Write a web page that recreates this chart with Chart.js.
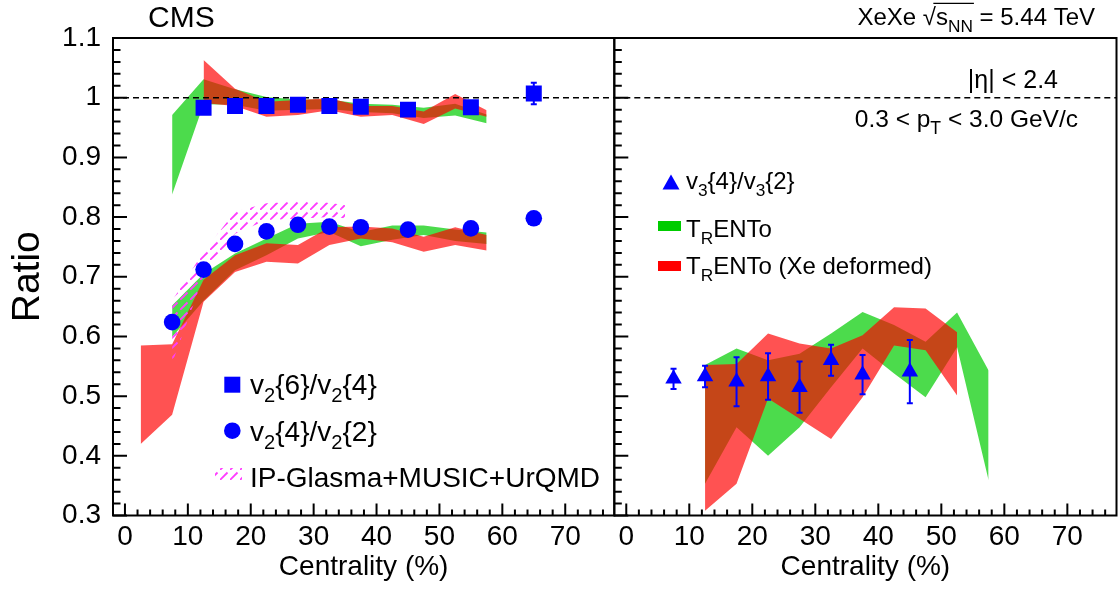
<!DOCTYPE html>
<html>
<head>
<meta charset="utf-8">
<title>XeXe flow harmonic ratios</title>
<script src="https://cdn.jsdelivr.net/npm/chart.js"></script>
<style>
  body { margin: 0; background: #fff; }
  .wrap { position: relative; width: 1119px; height: 592px; }
  .wrap canvas { position: absolute; top: 0; }
  #left { left: 0; }
  #right { left: 612px; }
</style>
</head>
<body>
<div class="wrap">
  <canvas id="left" width="620" height="592"></canvas>
  <canvas id="right" width="507" height="592"></canvas>
</div>
<script>
const FONT = '"Liberation Sans", Arial, Helvetica, sans-serif';
const X_MIN = -1.9, X_MAX = 77.8, Y_MIN = 0.3, Y_MAX = 1.1;
const xTicks = [0, 10, 20, 30, 40, 50, 60, 70];
const yTicks = [0.3, 0.4, 0.5, 0.6, 0.7, 0.8, 0.9, 1.0, 1.1];

// left panel: v2 ratios
const cent64 = [12.5, 17.5, 22.5, 27.5, 32.5, 37.5, 45, 55, 65];
const v2r64 = [0.983, 0.986, 0.986, 0.988, 0.986, 0.985, 0.980, 0.984, 1.007];
const v2r64Err = [0.005, 0.004, 0.004, 0.004, 0.004, 0.004, 0.005, 0.006, 0.018];
const cent42 = [7.5, 12.5, 17.5, 22.5, 27.5, 32.5, 37.5, 45, 55, 65];
const v2r42 = [0.624, 0.712, 0.755, 0.776, 0.787, 0.784, 0.783, 0.779, 0.781, 0.798];
const v2r42Err = [0.004, 0.003, 0.003, 0.003, 0.003, 0.003, 0.003, 0.003, 0.004, 0.005];

// TRENTo bands, left panel
const trCentL = [7.5, 12.5, 17.5, 22.5, 27.5, 32.5, 37.5, 42.5, 47.5, 52.5, 57.5];
const tr64Lo = [0.838, 0.989, 0.988, 0.978, 0.980, 0.981, 0.976, 0.974, 0.966, 0.970, 0.957];
const tr64Hi = [0.971, 1.031, 1.014, 1.001, 0.997, 0.997, 0.990, 0.988, 0.983, 0.990, 0.972];
const tr42Lo = [0.599, 0.660, 0.711, 0.736, 0.764, 0.775, 0.751, 0.762, 0.770, 0.760, 0.755];
const tr42Hi = [0.652, 0.705, 0.739, 0.764, 0.789, 0.792, 0.775, 0.786, 0.786, 0.779, 0.774];

const trDefCent64 = [12.5, 17.5, 22.5, 27.5, 32.5, 37.5, 42.5, 47.5, 52.5, 57.5];
const trDef64Lo = [0.991, 0.986, 0.968, 0.971, 0.979, 0.968, 0.971, 0.956, 0.982, 0.968];
const trDef64Hi = [1.063, 1.015, 0.993, 0.996, 0.999, 0.986, 0.986, 0.977, 1.006, 0.979];
const trDefCent42 = [2.5, 7.5, 12.5, 17.5, 22.5, 27.5, 32.5, 37.5, 42.5, 47.5, 52.5, 57.5];
const trDef42Lo = [0.420, 0.469, 0.658, 0.708, 0.725, 0.722, 0.753, 0.764, 0.758, 0.742, 0.753, 0.744];
const trDef42Hi = [0.585, 0.587, 0.695, 0.736, 0.756, 0.753, 0.783, 0.784, 0.781, 0.767, 0.783, 0.770];

// IP-Glasma+MUSIC+UrQMD
const ipgCent = [7.5, 12.5, 17.5, 22.5, 27.5, 32.5, 35];
const ipgLo = [0.555, 0.700, 0.772, 0.795, 0.797, 0.800, 0.798];
const ipgHi = [0.660, 0.742, 0.809, 0.823, 0.826, 0.824, 0.820];

// right panel: v3{4}/v3{2}
const cent3 = [7.5, 12.5, 17.5, 22.5, 27.5, 32.5, 37.5, 45];
const v3r = [0.529, 0.533, 0.524, 0.533, 0.515, 0.560, 0.536, 0.541];
const v3rErr = [0.017, 0.018, 0.041, 0.039, 0.043, 0.026, 0.033, 0.053];

const trCentR = [12.5, 17.5, 22.5, 27.5, 32.5, 37.5, 42.5, 47.5, 52.5, 57.5];
const tr3Lo = [0.353, 0.448, 0.400, 0.448, 0.515, 0.580, 0.538, 0.498, 0.582, 0.359];
const tr3Hi = [0.552, 0.580, 0.560, 0.571, 0.605, 0.641, 0.619, 0.591, 0.640, 0.543];
const trDefCentR = [12.5, 17.5, 22.5, 27.5, 32.5, 37.5, 42.5, 47.5, 52.5];
const trDef3Lo = [0.308, 0.353, 0.496, 0.462, 0.428, 0.498, 0.585, 0.577, 0.501];
const trDef3Hi = [0.552, 0.554, 0.605, 0.588, 0.580, 0.602, 0.649, 0.647, 0.607];

const BLUE = 'rgb(0,0,255)';
const GREEN_FILL = 'rgba(0,204,0,0.7)';
const RED_FILL = 'rgba(255,0,0,0.68)';
const NONE = 'rgba(0,0,0,0)';
const RIGHT_OFFSET = 612;

const pts = (xs, ys) => xs.map((x, i) => ({x, y: ys[i]}));

function hatchPattern(ctx) {
    const tile = document.createElement('canvas');
    tile.width = 10; tile.height = 10;
    const g = tile.getContext('2d');
    g.strokeStyle = 'rgb(255,60,255)';
    g.lineWidth = 1.8;
    g.beginPath();
    g.moveTo(0, 10); g.lineTo(7.5, 2.5);
    g.stroke();
    return ctx.createPattern(tile, 'repeat');
}

function band(xs, lo, hi, color, order) {
    return [
        {data: pts(xs, lo), borderColor: NONE, borderWidth: 0, pointRadius: 0, fill: false, order, tension: 0},
        {data: pts(xs, hi), borderColor: NONE, borderWidth: 0, pointRadius: 0, fill: '-1', backgroundColor: color, order, tension: 0}
    ];
}

function markers(xs, ys, errs, style, radius) {
    return {
        data: pts(xs, ys), showLine: false, pointStyle: style, pointRadius: radius,
        pointBackgroundColor: BLUE, pointBorderWidth: 0, order: 0, errs
    };
}

const unity = {
    data: [{x: X_MIN, y: 1}, {x: X_MAX, y: 1}], borderColor: '#000', borderWidth: 1.6,
    borderDash: [6, 4], pointRadius: 0, fill: false, order: 1
};

// draw text with subscripts; parts = [[text, isSub], ...]
function richText(ctx, parts, x, y, size, align) {
    const sub = size * 0.72;
    const widths = parts.map(([t, s]) => {
        ctx.font = `${s ? sub : size}px ${FONT}`;
        return ctx.measureText(t).width;
    });
    const total = widths.reduce((a, b) => a + b, 0);
    let cx = align === 'right' ? x - total : x;
    const starts = [];
    ctx.textAlign = 'left';
    ctx.textBaseline = 'alphabetic';
    parts.forEach(([t, s], i) => {
        ctx.font = `${s ? sub : size}px ${FONT}`;
        ctx.fillText(t, cx, s ? y + size * 0.3 : y);
        starts.push(cx);
        cx += widths[i];
    });
    return {starts, widths};
}

const errorBars = {
    id: 'errorBars',
    afterDatasetsDraw(chart) {
        const {ctx, scales: {x, y}} = chart;
        ctx.save();
        ctx.strokeStyle = BLUE;
        ctx.lineWidth = 2;
        chart.data.datasets.forEach(ds => {
            if (!ds.errs) return;
            ds.data.forEach((p, i) => {
                const px = x.getPixelForValue(p.x);
                const y1 = y.getPixelForValue(p.y - ds.errs[i]);
                const y2 = y.getPixelForValue(p.y + ds.errs[i]);
                ctx.beginPath();
                ctx.moveTo(px, y1); ctx.lineTo(px, y2);
                ctx.moveTo(px - 3, y1); ctx.lineTo(px + 3, y1);
                ctx.moveTo(px - 3, y2); ctx.lineTo(px + 3, y2);
                ctx.stroke();
            });
        });
        ctx.restore();
    }
};

const frameTicks = {
    id: 'frameTicks',
    afterDraw(chart) {
        const {ctx, chartArea: a, scales: {x, y}} = chart;
        ctx.save();
        ctx.strokeStyle = '#000';
        ctx.lineWidth = 2;
        ctx.strokeRect(a.left, a.top, a.right - a.left, a.bottom - a.top);
        ctx.beginPath();
        for (let v = 0; v <= X_MAX; v += 2) {
            const px = x.getPixelForValue(v);
            const len = v % 10 === 0 ? 12 : 6;
            ctx.moveTo(px, a.bottom); ctx.lineTo(px, a.bottom - len);
        }
        for (let k = 0; k <= 40; k++) {
            const py = y.getPixelForValue(Y_MIN + k * 0.02);
            const len = k % 5 === 0 ? 14 : 7.5;
            ctx.moveTo(a.left, py); ctx.lineTo(a.left + len, py);
        }
        ctx.stroke();
        ctx.restore();
    }
};

function makeOptions(isLeft) {
    const tickFont = {family: FONT, size: 28, lineHeight: 1};
    return {
        responsive: false,
        animation: false,
        layout: {
            autoPadding: false,
            padding: isLeft ? {left: 0, right: 620 - 614.3, top: 38, bottom: 0}
                            : {left: 614.3 - RIGHT_OFFSET, right: 507 - (1116.5 - RIGHT_OFFSET), top: 38, bottom: 0}
        },
        plugins: {legend: {display: false}, tooltip: {enabled: false}},
        scales: {
            x: {
                type: 'linear', min: X_MIN, max: X_MAX,
                afterBuildTicks: s => { s.ticks = xTicks.map(v => ({value: v})); },
                grid: {display: false, drawTicks: false},
                border: {display: false},
                ticks: {font: tickFont, color: '#000', padding: 8, maxRotation: 0, autoSkip: false},
                title: {display: true, text: 'Centrality (%)', color: '#000',
                        font: {family: FONT, size: 28, lineHeight: 1}, padding: {top: 0, bottom: 11}},
                afterFit: s => { s.height = 76.5; s.paddingLeft = 0; s.paddingRight = 0; }
            },
            y: {
                type: 'linear', display: isLeft, min: Y_MIN, max: Y_MAX,
                afterBuildTicks: s => { s.ticks = yTicks.map(v => ({value: v})); },
                grid: {display: false, drawTicks: false},
                border: {display: false},
                ticks: {font: tickFont, color: '#000', padding: 12, callback: v => String(+v.toFixed(1))},
                title: {display: true, text: 'Ratio', color: '#000',
                        font: {family: FONT, size: 39, lineHeight: 1}, padding: {top: 8.5, bottom: 0}},
                afterFit: s => {
                    s.width = isLeft ? 113 : 0;
                    s.paddingTop = 0; s.paddingBottom = 0;
                }
            }
        }
    };
}

const leftCtx = document.getElementById('left').getContext('2d');
const hatch = hatchPattern(leftCtx);

const leftLabels = {
    id: 'leftLabels',
    afterDraw(chart) {
        const ctx = chart.ctx;
        ctx.save();
        ctx.fillStyle = '#000';
        ctx.font = `30px ${FONT}`;
        ctx.textAlign = 'left';
        ctx.textBaseline = 'alphabetic';
        ctx.fillText('CMS', 148, 27);

        // legend
        ctx.fillStyle = BLUE;
        ctx.fillRect(224.3, 376.7, 16, 16);
        ctx.beginPath();
        ctx.arc(232.3, 430.7, 8.3, 0, Math.PI * 2);
        ctx.fill();
        ctx.fillStyle = hatch;
        ctx.fillRect(215, 468, 27, 13);

        ctx.fillStyle = '#000';
        richText(ctx, [['v', 0], ['2', 1], ['{6}/v', 0], ['2', 1], ['{4}', 0]], 250, 394, 28);
        richText(ctx, [['v', 0], ['2', 1], ['{4}/v', 0], ['2', 1], ['{2}', 0]], 250, 441, 28);
        richText(ctx, [['IP-Glasma+MUSIC+UrQMD', 0]], 250, 487, 28);
        ctx.restore();
    }
};

const rightLabels = {
    id: 'rightLabels',
    afterDraw(chart) {
        const ctx = chart.ctx;
        ctx.save();
        ctx.translate(-RIGHT_OFFSET, 0);
        ctx.fillStyle = '#000';

        const r = richText(ctx, [['XeXe ', 0], ['\u221A', 0], ['s', 0], ['NN', 1], [' = 5.44 TeV', 0]], 1095, 25, 24, 'right');
        ctx.strokeStyle = '#000';
        ctx.lineWidth = 1.2;
        ctx.beginPath();
        ctx.moveTo(r.starts[1] + r.widths[1] * 0.8, 25 - 24 * 0.9);
        ctx.lineTo(r.starts[3] + r.widths[3] + 1, 25 - 24 * 0.9);
        ctx.stroke();

        richText(ctx, [['|\u03B7| < 2.4', 0]], 1058, 88, 25, 'right');
        richText(ctx, [['0.3 < p', 0], ['T', 1], [' < 3.0 GeV/c', 0]], 1078, 127, 24.5, 'right');

        // legend
        ctx.fillStyle = BLUE;
        ctx.beginPath();
        ctx.moveTo(671, 174.5);
        ctx.lineTo(679.5, 189.5);
        ctx.lineTo(662.5, 189.5);
        ctx.closePath();
        ctx.fill();
        ctx.fillStyle = 'rgb(0,204,0)';
        ctx.fillRect(658, 221, 23, 10);
        ctx.fillStyle = 'rgb(255,0,0)';
        ctx.fillRect(658, 261, 23, 10);

        ctx.fillStyle = '#000';
        richText(ctx, [['v', 0], ['3', 1], ['{4}/v', 0], ['3', 1], ['{2}', 0]], 686, 189, 24);
        richText(ctx, [['T', 0], ['R', 1], ['ENTo', 0]], 686, 236.5, 24);
        richText(ctx, [['T', 0], ['R', 1], ['ENTo (Xe deformed)', 0]], 686, 273.5, 24);
        ctx.restore();
    }
};

new Chart(leftCtx, {
    type: 'line',
    data: {
        datasets: [
            ...band(trCentL, tr64Lo, tr64Hi, GREEN_FILL, 4),
            ...band(trCentL, tr42Lo, tr42Hi, GREEN_FILL, 4),
            ...band(trDefCent64, trDef64Lo, trDef64Hi, RED_FILL, 3),
            ...band(trDefCent42, trDef42Lo, trDef42Hi, RED_FILL, 3),
            ...band(ipgCent, ipgLo, ipgHi, hatch, 2),
            unity,
            markers(cent64, v2r64, v2r64Err, 'rect', 11.3),
            markers(cent42, v2r42, v2r42Err, 'circle', 8.3)
        ]
    },
    options: makeOptions(true),
    plugins: [errorBars, frameTicks, leftLabels]
});

new Chart(document.getElementById('right'), {
    type: 'line',
    data: {
        datasets: [
            ...band(trCentR, tr3Lo, tr3Hi, GREEN_FILL, 4),
            ...band(trDefCentR, trDef3Lo, trDef3Hi, RED_FILL, 3),
            {...unity},
            markers(cent3, v3r, v3rErr, 'triangle', 9.5)
        ]
    },
    options: makeOptions(false),
    plugins: [errorBars, frameTicks, rightLabels]
});
</script>
</body>
</html>
